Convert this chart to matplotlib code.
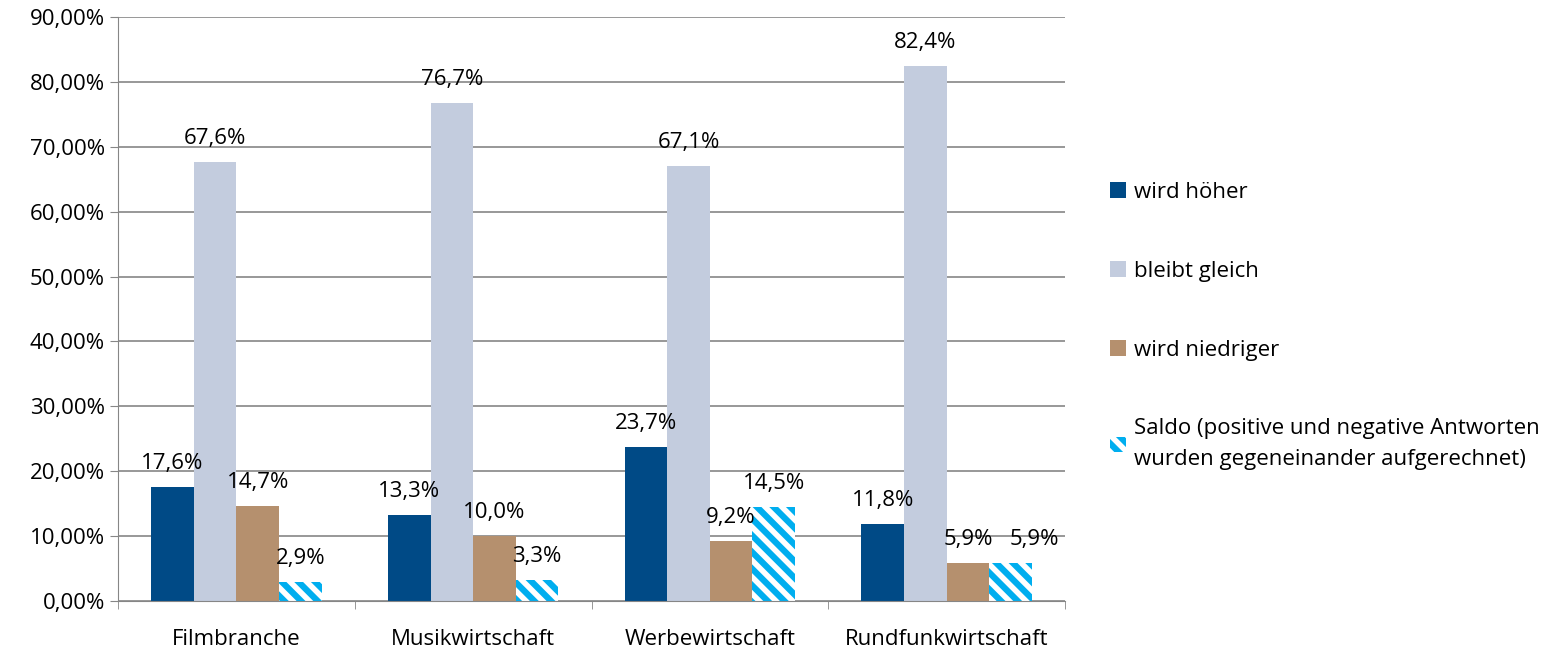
import matplotlib.pyplot as plt
import numpy as np
from matplotlib.ticker import FuncFormatter

categories = ["Filmbranche", "Musikwirtschaft", "Werbewirtschaft", "Rundfunkwirtschaft"]
hoeher = [17.6, 13.3, 23.7, 11.8]
gleich = [67.6, 76.7, 67.1, 82.4]
niedriger = [14.7, 10.0, 9.2, 5.9]
saldo = [2.9, 3.3, 14.5, 5.9]
labels = ["wird höher", "bleibt gleich", "wird niedriger",
          "Saldo (positive und negative Antworten\nwurden gegeneinander aufgerechnet)"]

plt.rcParams["font.family"] = ["Open Sans", "DejaVu Sans"]
plt.rcParams["hatch.linewidth"] = 4.5

fig = plt.figure(figsize=(15.66, 6.49), dpi=100)
ax = fig.add_axes([118 / 1566, 48 / 649, 947 / 1566, 584 / 649])

x = np.arange(len(categories))
w = 0.18
series = [hoeher, gleich, niedriger, saldo]
colors = ["#004A86", "#C3CCDE", "#B5906E", "white"]
offsets = [-1.5, -0.5, 0.5, 1.5]
for si, (vals, col, off, lab) in enumerate(zip(series, colors, offsets, labels)):
    if col == "white":
        bars = ax.bar(x + off * w, vals, w, color="white", edgecolor="#00AEEF",
                      hatch="\\\\", linewidth=0, label=lab)
    else:
        bars = ax.bar(x + off * w, vals, w, color=col, label=lab)
    for ci, (b, v) in enumerate(zip(bars, vals)):
        # Excel pushed the last Saldo label right to avoid its neighbour
        nudge = 24 if (si == 3 and ci == 3) else 0
        ax.annotate(f"{v:.1f}%".replace(".", ","),
                    (b.get_x() + b.get_width() / 2, v + 2.0),
                    xytext=(nudge, 0), textcoords="offset pixels",
                    ha="center", va="bottom", fontsize=16)

ax.set_xlim(-0.5, len(categories) - 0.5)
ax.set_ylim(0, 90)
ax.set_yticks(np.arange(0, 91, 10))
ax.yaxis.set_major_formatter(FuncFormatter(lambda v, p: f"{v:.2f}%".replace(".", ",")))
ax.set_xticks(x)
ax.set_xticklabels(categories)
ax.set_xticks(np.arange(-0.5, len(categories)), minor=True)
ax.tick_params(axis="x", which="major", length=0, pad=20, labelsize=16)
ax.tick_params(axis="x", which="minor", length=6, color="#868686")
ax.tick_params(axis="y", length=6, color="#868686", labelsize=16)
ax.yaxis.grid(True, color="#868686", linewidth=1.2)
ax.set_axisbelow(True)
for s in ["top", "right"]:
    ax.spines[s].set_visible(False)
for s in ["left", "bottom"]:
    ax.spines[s].set_color("#868686")

leg = fig.legend(loc="upper left", bbox_to_anchor=(1090 / 1566, 1 - 162 / 649),
                 frameon=False, fontsize=16, handlelength=0.7, handleheight=0.7,
                 handletextpad=0.4, labelspacing=2.6)
leg.get_texts()[-1].set_linespacing(1.6)

fig.savefig("out.png", dpi=100)
